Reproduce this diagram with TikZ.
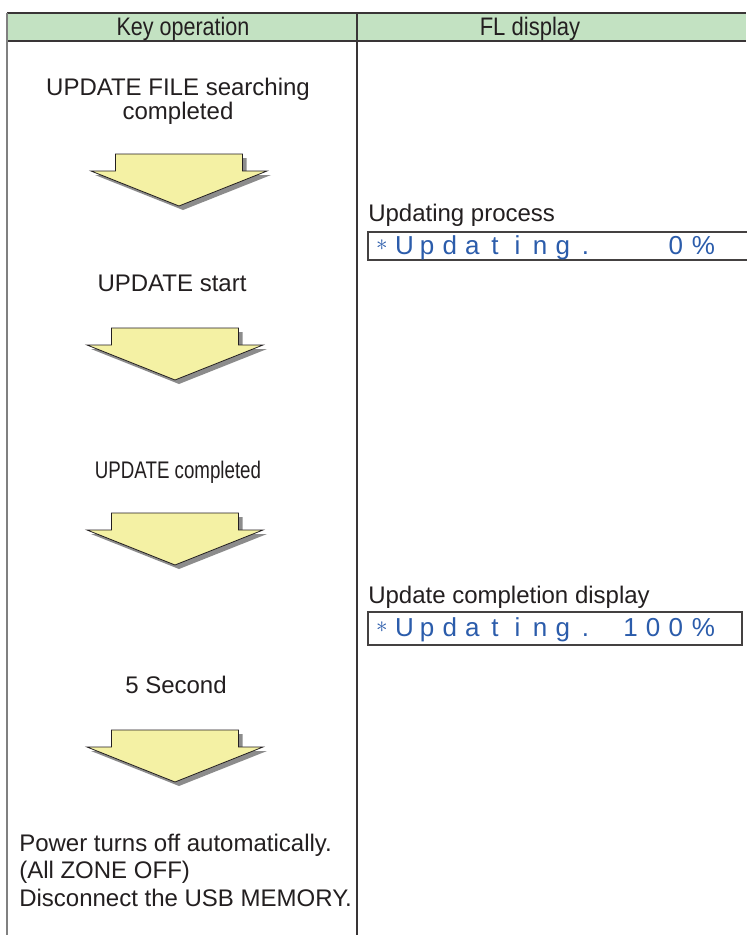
\documentclass[tikz,border=0pt]{standalone}
\usepackage{fontspec}
\setmainfont{Liberation Sans}
\usepackage{graphicx}
\definecolor{hdr}{HTML}{C3E2C2}
\definecolor{arw}{HTML}{F4F1A4}
\definecolor{lcdblue}{HTML}{2B5CAB}
\definecolor{ink}{HTML}{231F20}
\newcommand{\downarrowshape}[2]{%
  \fill[black!45] ({#1-63.5+4},{#2+4}) -- ({#1+63.5+4},{#2+4}) -- ({#1+63.5+4},{#2+17+4}) -- ({#1+88+4},{#2+17+4}) -- ({#1+4},{#2+52+4}) -- ({#1-88+4},{#2+17+4}) -- ({#1-63.5+4},{#2+17+4}) -- cycle;
  \draw[arrowbody] ({#1-63.5},{#2}) -- ({#1+63.5},{#2}) -- ({#1+63.5},{#2+17}) -- ({#1+88},{#2+17}) -- ({#1},{#2+52}) -- ({#1-88},{#2+17}) -- ({#1-63.5},{#2+17}) -- cycle;}
\newcommand{\lcdstar}{\raisebox{2.6pt}{\fontsize{18}{18}\selectfont$\ast$}}
\begin{document}
\begin{tikzpicture}[x=0.75pt,y=-0.75pt,
  txt/.style={inner sep=0pt, anchor=base, font=\fontsize{18}{21}\selectfont, text=ink},
  ltxt/.style={txt, anchor=base west},
  lcdch/.style={inner sep=0pt, anchor=base, font=\fontsize{19.5}{22}\selectfont, text=lcdblue},
  arrowbody/.style={fill=arw, draw=ink, line width=0.6pt, line join=miter},
  lcdbox/.style={draw=ink!85, line width=0.9pt},
  rule/.style={draw=ink!90, line width=1.1pt}]
\useasboundingbox (0,0) rectangle (746,935);
\fill[white] (0,0) rectangle (746,935);
% header
\fill[hdr] (7,13) rectangle (746,41);
\draw[rule] (7,13) -- (746,13);
\draw[rule] (7,41) -- (746,41);
\draw[draw=black!50, line width=1.6pt] (7,12.5) -- (7,935);
\draw[rule] (357,13) -- (357,935);
\node[txt, font=\fontsize{19}{21}\selectfont] (h1) at (183,35) {\scalebox{0.85}[1]{Key operation}};
\node[txt, font=\fontsize{19}{21}\selectfont] (h2) at (530,35) {\scalebox{0.87}[1]{FL display}};
% left column texts
\node[txt] (t1a) at (178,95) {UPDATE FILE searching};
\node[txt] (t1b) at (178,119) {completed};
\downarrowshape{179}{154}
\node[txt] (t2) at (172,291) {UPDATE start};
\downarrowshape{175}{328}
\node[txt] (t3) at (178,478) {\scalebox{0.78}[1]{UPDATE completed}};
\downarrowshape{175}{513}
\node[txt] (t4) at (176,693) {5 Second};
\downarrowshape{175}{730}
\node[ltxt] (t5a) at (19,851) {Power turns off automatically.};
\node[ltxt] (t5b) at (19,878) {(All ZONE OFF)};
\node[ltxt] (t5c) at (19,906) {Disconnect the USB MEMORY.};
% right column
\node[ltxt] (r1) at (368,221) {Updating process};
\draw[lcdbox] (747,232) -- (368,232) -- (368,260) -- (747,260);
\foreach \c [count=\i from 0] in {{\lcdstar},U,p,d,a,t,i,n,g,.,{},{},{},0}
  \node[lcdch] (la\i) at ({382+22.6*\i},254) {\c};
\node[lcdch] (lapct) at ({382+22.6*14+5},254) {\%};
\node[ltxt] (r2) at (368,603) {Update completion display};
\draw[lcdbox] (368,612) rectangle (742,645);
\foreach \c [count=\i from 0] in {{\lcdstar},U,p,d,a,t,i,n,g,.,{},1,0,0}
  \node[lcdch] (lb\i) at ({382+22.6*\i},636) {\c};
\node[lcdch] (lbpct) at ({382+22.6*14+5},636) {\%};
\end{tikzpicture}
\end{document}
